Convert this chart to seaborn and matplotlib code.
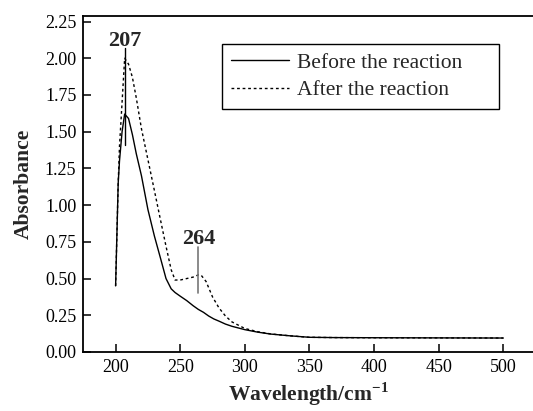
import matplotlib
matplotlib.use("Agg")
import matplotlib.pyplot as plt
import seaborn as sns
import pandas as pd
from matplotlib.ticker import FormatStrFormatter
from matplotlib.lines import Line2D

# --- data ---
wl_before = [200, 202, 203, 205, 207, 210, 213, 216, 220, 225, 230, 235, 239, 243, 246,
             250, 255, 260, 264, 268, 272, 276, 280, 285, 290, 300, 310, 320, 335, 350,
             370, 400, 450, 500]
abs_before = [0.45, 1.15, 1.30, 1.50, 1.62, 1.59, 1.48, 1.35, 1.20, 0.97, 0.79, 0.63, 0.50, 0.43, 0.405,
              0.38, 0.35, 0.315, 0.29, 0.27, 0.245, 0.225, 0.21, 0.19, 0.175, 0.152, 0.135, 0.122, 0.11, 0.10,
              0.098, 0.097, 0.096, 0.095]
wl_after = [200, 202, 203, 205, 207, 210, 213, 216, 220, 225, 230, 234, 239, 243, 246,
            250, 255, 260, 264, 266, 270, 275, 280, 285, 290, 300, 310, 320, 335, 350,
            370, 400, 450, 500]
abs_after = [0.45, 1.15, 1.40, 1.70, 2.00, 1.96, 1.87, 1.73, 1.52, 1.31, 1.10, 0.93, 0.72, 0.56, 0.49,
             0.49, 0.50, 0.51, 0.525, 0.525, 0.48, 0.375, 0.30, 0.245, 0.205, 0.16, 0.138, 0.123, 0.11, 0.10,
             0.098, 0.097, 0.096, 0.095]
series_names = ["Before the reaction", "After the reaction"]
x_ticks = [200, 250, 300, 350, 400, 450, 500]
y_ticks = [0.00, 0.25, 0.50, 0.75, 1.00, 1.25, 1.50, 1.75, 2.00, 2.25]
peak_labels = ["207", "264"]
peak_positions = [207, 264]

df = pd.concat([
    pd.DataFrame({"Wavelength": wl_before, "Absorbance": abs_before, "series": series_names[0]}),
    pd.DataFrame({"Wavelength": wl_after, "Absorbance": abs_after, "series": series_names[1]}),
], ignore_index=True)

sns.set_theme(style="ticks")
plt.rcParams["font.family"] = ["Liberation Serif", "DejaVu Serif"]
plt.rcParams["mathtext.fontset"] = "custom"
plt.rcParams["mathtext.rm"] = "Liberation Serif"
plt.rcParams["mathtext.bf"] = "Liberation Serif:bold"

fig = plt.figure(figsize=(5.33, 4.11), dpi=100)
ax = fig.add_axes([0.1563, 0.1436, 0.8437, 0.8182])

sns.lineplot(data=df, x="Wavelength", y="Absorbance", style="series",
             style_order=series_names, dashes={series_names[0]: "", series_names[1]: (2, 2)},
             color="black", linewidth=1.0, sort=False, estimator=None, legend=False, ax=ax)

ax.set_xlim(175, 523)
ax.set_ylim(0, 2.29)
ax.set_xticks(x_ticks)
ax.set_yticks(y_ticks)
ax.yaxis.set_major_formatter(FormatStrFormatter("%.2f"))
ax.tick_params(direction="in", length=6, width=1.1, labelsize=13, colors="black", pad=5)
for side in ["left", "bottom", "top"]:
    ax.spines[side].set_linewidth(1.3)
    ax.spines[side].set_color("black")
ax.spines["right"].set_visible(False)

ax.set_xlabel(r"Wavelength/cm$^{\mathbf{-1}}$", fontsize=15.5, fontweight="bold", labelpad=3)
ax.set_ylabel("Absorbance", fontsize=15.5, fontweight="bold", labelpad=8)

# peak annotations
ax.plot([peak_positions[0], peak_positions[0]], [1.41, 2.07], color="black", linewidth=1.0)
ax.text(peak_positions[0], 2.085, peak_labels[0], ha="center", va="baseline", fontsize=16, fontweight="bold")
ax.plot([peak_positions[1], peak_positions[1]], [0.40, 0.716], color="#777777", linewidth=1.2)
ax.text(peak_positions[1], 0.735, peak_labels[1], ha="center", va="baseline", fontsize=16, fontweight="bold")

handles = [Line2D([], [], color="black", linewidth=1.0, linestyle="-"),
           Line2D([], [], color="black", linewidth=1.0, linestyle=(0, (2, 2)))]
leg = ax.legend(handles, series_names, loc="upper left", bbox_to_anchor=(0.3084, 0.716, 0.6166, 0.2),
                mode="expand", fontsize=15.5, frameon=True, fancybox=False, edgecolor="black",
                framealpha=1, handlelength=2.7, borderpad=0.4, labelspacing=0.35,
                handletextpad=0.4, borderaxespad=0)
leg.get_frame().set_linewidth(1.0)

fig.savefig("out.png", dpi=100)
